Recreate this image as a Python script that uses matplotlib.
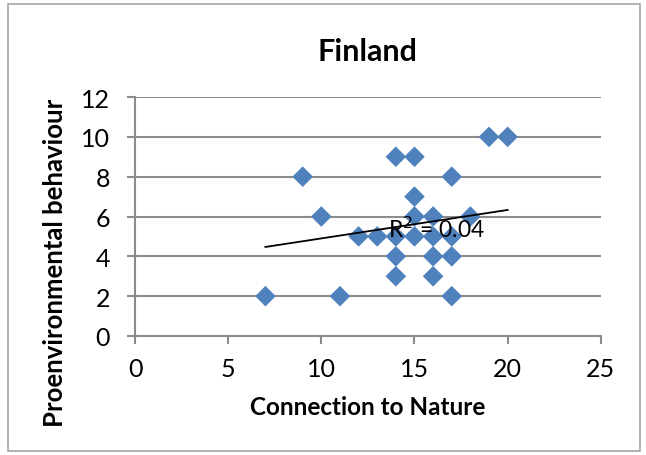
import numpy as np
import matplotlib.pyplot as plt
from matplotlib.patches import Rectangle

# connection-to-nature score vs. pro-environmental behaviour score
connection = [7, 9, 10, 11, 12, 13, 14, 14, 14, 14, 15, 15, 15, 15,
              16, 16, 16, 16, 17, 17, 17, 17, 18, 19, 20]
behaviour = [2, 8, 6, 2, 5, 5, 9, 5, 4, 3, 9, 7, 6, 5,
             6, 5, 4, 3, 8, 5, 4, 2, 6, 10, 10]
# linear trend (slope, intercept) and its R^2
trend_slope = 0.143
trend_intercept = 3.47
r_squared = 0.04

plt.rcParams['font.family'] = ['Lato', 'DejaVu Sans']

fig = plt.figure(figsize=(6.46, 4.56), dpi=100)
ax = fig.add_axes([0.209, 0.261, 0.721, 0.524])

# chart frame
fig.patches.append(Rectangle((0.012, 0.008), 0.978, 0.98, transform=fig.transFigure,
                             fill=False, edgecolor='#a6a6a6', linewidth=1.2))

ax.scatter(connection, behaviour, marker='D', s=110, color='#4f81bd',
           edgecolors='none', zorder=3)

xs = np.array([min(connection), max(connection)], dtype=float)
ax.plot(xs, trend_slope * xs + trend_intercept, color='black', linewidth=1.3, zorder=4)
ax.text(13.6, 5.4, 'R$^2$ = %.2f' % r_squared, fontsize=16.5, va='center',
        ha='left', zorder=5)

ax.set_xlim(0, 25)
ax.set_ylim(0, 12)
ax.set_xticks(range(0, 26, 5))
ax.set_yticks(range(0, 13, 2))
ax.grid(axis='y', color='#8c8c8c', linewidth=1.5)
ax.set_axisbelow(True)
for side in ['top', 'right']:
    ax.spines[side].set_visible(False)
for side in ['left', 'bottom']:
    ax.spines[side].set_color('#8c8c8c')
    ax.spines[side].set_linewidth(1.5)
ax.tick_params(axis='both', colors='#8c8c8c', labelcolor='black', labelsize=18,
               length=6, width=1.5, direction='out')
ax.tick_params(axis='x', pad=9)
ax.tick_params(axis='y', pad=12)

ax.set_title('Finland', fontsize=22, fontweight='bold', pad=27)
ax.set_xlabel('Connection to Nature', fontsize=17.5, fontweight='bold', labelpad=11)
ax.set_ylabel('Proenvironmental behaviour', fontsize=18.5, fontweight='bold')
ax.yaxis.set_label_coords(-0.145, 0.31)

fig.savefig('out.png', dpi=100)
